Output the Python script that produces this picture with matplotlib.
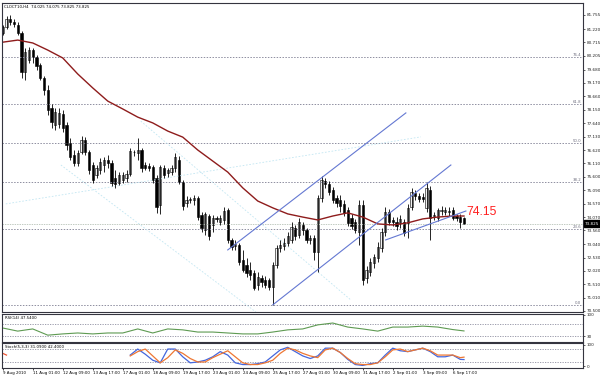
import matplotlib
matplotlib.use("Agg")
import matplotlib.pyplot as plt
import matplotlib.transforms as mtransforms

# CLOCT10 H4 candles (bar 0 = first visible bar)
opens = [81.07, 81.29, 81.60, 81.48, 81.37, 81.07, 79.58, 80.04, 80.42, 80.15,
         79.85, 79.36, 78.90, 78.22, 77.57, 77.61, 77.99, 77.57, 76.89, 76.43,
         76.13, 76.54, 77.00, 76.54, 76.05, 75.67, 75.86, 76.05, 76.24, 76.13,
         75.56, 75.37, 75.48, 75.56, 75.71, 76.54, 76.51, 76.62, 76.05, 76.01,
         75.97, 75.56, 74.53, 75.94, 75.75, 75.78, 75.94, 76.24, 75.40, 74.61,
         74.72, 74.72, 74.80, 74.15, 73.58, 74.11, 73.77, 74.04, 73.88, 73.96,
         74.34, 73.20, 72.97, 73.01, 72.44, 72.25, 72.06, 71.95, 71.49, 71.76,
         71.68, 71.68, 71.41, 72.25, 72.90, 72.97, 73.09, 73.20, 73.66, 73.39,
         73.77, 73.58, 73.20, 73.28, 72.74, 74.80, 75.44, 75.33, 75.10, 74.80,
         74.72, 74.57, 74.34, 74.04, 73.88, 73.50, 74.53, 71.76, 71.98, 72.33,
         72.52, 72.90, 73.50, 74.26, 73.96, 73.88, 73.81, 73.88, 73.85, 74.45,
         74.99, 74.87, 74.83, 74.42, 75.10, 74.07, 74.04, 74.30, 74.26, 74.26,
         74.34, 74.11, 74.07, 74.025]
highs = [81.37, 81.71, 81.75, 81.60, 81.48, 81.14, 80.50, 80.53, 80.50, 80.23,
         79.93, 79.43, 79.09, 78.37, 78.22, 78.22, 78.14, 77.68, 77.08, 76.62,
         76.62, 77.15, 77.11, 76.62, 76.16, 76.05, 76.32, 76.35, 76.43, 76.24,
         75.86, 75.78, 75.78, 75.86, 76.70, 76.62, 77.08, 76.70, 76.16, 76.13,
         76.05, 75.67, 76.05, 76.05, 75.94, 76.05, 76.51, 76.39, 75.48, 74.87,
         74.83, 74.91, 74.87, 74.26, 74.26, 74.19, 74.15, 74.11, 74.15, 74.45,
         74.42, 73.28, 73.20, 73.09, 72.82, 72.52, 72.36, 72.06, 71.98, 71.87,
         71.83, 71.76, 72.36, 73.01, 73.20, 73.28, 73.50, 73.88, 73.77, 74.04,
         73.88, 73.66, 73.39, 73.39, 74.91, 75.63, 75.56, 75.44, 75.21, 74.91,
         74.91, 74.72, 74.45, 74.19, 73.99, 74.72, 74.72, 72.21, 72.52, 72.67,
         73.12, 73.66, 74.45, 74.38, 74.07, 74.07, 74.15, 73.99, 74.57, 75.18,
         75.10, 74.99, 74.99, 75.40, 75.25, 74.26, 74.42, 74.49, 74.45, 74.45,
         74.45, 74.19, 74.19, 74.075]
lows = [80.99, 81.22, 81.37, 81.29, 80.99, 79.36, 79.28, 79.93, 79.93, 79.66,
        79.28, 78.71, 77.95, 77.46, 77.38, 77.46, 77.30, 76.62, 76.24, 76.01,
        76.01, 76.47, 76.43, 75.71, 75.37, 75.56, 75.71, 75.78, 75.94, 75.25,
        75.18, 75.29, 75.37, 75.40, 75.63, 76.39, 76.24, 75.78, 75.86, 75.82,
        75.37, 74.23, 74.19, 75.56, 75.59, 75.67, 75.78, 75.33, 74.34, 74.45,
        74.61, 74.53, 73.96, 73.50, 73.39, 73.20, 73.50, 73.88, 73.77, 73.81,
        73.09, 72.82, 72.82, 72.25, 71.98, 71.79, 71.68, 71.30, 71.30, 71.41,
        71.38, 71.30, 70.73, 72.14, 72.74, 72.82, 72.97, 73.09, 73.20, 73.28,
        73.39, 73.09, 73.05, 72.44, 71.98, 74.64, 75.18, 74.91, 74.61, 74.45,
        74.26, 74.11, 73.73, 73.62, 73.47, 73.01, 71.49, 71.57, 71.83, 72.14,
        72.36, 72.74, 73.35, 73.77, 73.73, 73.58, 73.66, 73.35, 73.28, 74.34,
        74.72, 74.64, 74.64, 74.26, 73.20, 73.96, 73.92, 74.15, 74.15, 74.11,
        73.96, 73.92, 73.66, 73.825]
closes = [81.29, 81.60, 81.48, 81.41, 81.07, 79.58, 80.34, 80.42, 80.15, 79.81,
          79.36, 78.90, 78.14, 77.68, 78.06, 78.03, 77.46, 76.81, 76.35, 76.13,
          76.51, 77.00, 76.54, 75.86, 75.48, 75.94, 76.16, 76.24, 76.13, 75.37,
          75.33, 75.67, 75.67, 75.71, 76.58, 76.56, 76.62, 75.94, 75.94, 75.94,
          75.48, 74.45, 75.97, 75.67, 75.86, 75.94, 76.35, 75.40, 74.49, 74.72,
          74.76, 74.80, 74.07, 73.66, 74.19, 73.35, 74.04, 74.00, 74.04, 74.30,
          73.20, 72.93, 73.05, 72.36, 72.06, 71.95, 71.87, 71.38, 71.79, 71.60,
          71.49, 71.41, 72.25, 72.90, 73.01, 73.09, 73.35, 73.69, 73.35, 73.88,
          73.58, 73.20, 73.28, 72.74, 74.80, 75.48, 75.33, 75.02, 74.72, 74.61,
          74.49, 74.23, 73.85, 73.73, 73.58, 74.53, 71.68, 72.06, 72.36, 72.55,
          72.93, 73.50, 74.26, 73.88, 73.88, 73.73, 74.00, 73.47, 74.42, 75.02,
          74.87, 74.76, 74.76, 75.18, 74.04, 74.15, 74.34, 74.34, 74.34, 74.30,
          74.04, 74.04, 73.88, 73.825]

# moving average, read every 4 bars
ma_bars = list(range(0, 121, 4)) + [123]
ma_vals = [80.72, 80.80, 80.69, 80.42, 80.12, 79.51, 78.98, 78.48, 78.18, 77.87,
           77.65, 77.34, 77.11, 76.62, 76.20, 75.78, 75.18, 74.68, 74.42, 74.19,
           74.07, 73.96, 74.11, 74.23, 74.07, 73.81, 73.77, 73.85, 74.00, 74.07,
           74.11, 74.11]

# fibonacci retracement levels
fib_labels = ["76.4", "61.8", "50.0", "38.2", "23.6", "0.0"]
fib_prices = [80.16, 78.37, 76.89, 75.40, 73.62, 70.73]

# trend lines (bar, price) pairs
channel_up = ([60.0, 107.5], [72.82, 78.03])
channel_low = ([72.0, 119.5], [70.73, 76.05])
short_line = ([102.1, 123.5], [73.20, 74.30])
faint_lines = [([15.5, 67.5], [76.05, 70.46]),
               ([36.8, 92.8], [77.72, 70.92]),
               ([0.8, 111.5], [74.57, 77.12])]

bid = 73.825
note_price = 74.15
price_ticks = [81.755, 81.220, 80.715, 80.205, 79.680, 79.170, 78.660, 78.150,
               77.640, 77.130, 76.620, 76.110, 75.600, 75.090, 74.570, 74.070,
               73.560, 73.040, 72.530, 72.020, 71.510, 71.010, 70.500]

# RSI(14), read every 4 bars
rsi_bars = list(range(0, 121, 4)) + [123]
rsi_vals = [57, 47, 54, 34, 38, 41, 38, 41, 41, 54, 41, 54, 51, 44, 44, 41,
            38, 38, 44, 51, 54, 67, 73, 60, 54, 47, 60, 60, 63, 60, 52, 47.54]

# Stoch(5,3,3), read every 2 bars
stoch_bars = list(range(34, 123, 2)) + [123]
stoch_k = [52, 80, 56, 28, 16, 80, 80, 44, 16, 20, 28, 44, 68, 52, 16, 8, 8, 12,
           20, 48, 76, 88, 68, 48, 36, 48, 84, 84, 64, 32, 8, 4, 12, 16, 52, 84,
           72, 68, 76, 84, 68, 44, 44, 52, 32, 31.09]
stoch_d = [48, 68, 80, 48, 16, 40, 76, 60, 36, 20, 20, 40, 56, 72, 44, 16, 8, 8,
           16, 28, 60, 84, 76, 60, 48, 40, 76, 84, 64, 36, 12, 8, 8, 16, 44, 76,
           80, 68, 76, 84, 72, 52, 52, 52, 40, 42.40]
stoch_d_head = [60, 52]

date_bars = list(range(0, 121, 8))
date_labels = ["9 Aug 2010", "11 Aug 01:00", "12 Aug 09:00", "13 Aug 17:00",
               "17 Aug 01:00", "18 Aug 09:00", "19 Aug 17:00", "23 Aug 01:00",
               "24 Aug 09:00", "25 Aug 17:00", "27 Aug 01:00", "30 Aug 09:00",
               "31 Aug 17:00", "2 Sep 01:00", "3 Sep 09:00", "6 Sep 17:00"]

W, H = 600, 376
fig = plt.figure(figsize=(6, 3.76), dpi=100)
spine_c = "#34343f"
small = 3.0
xlim = (-0.2, -0.2 + 581 / 3.75)

def panel(top, bottom):
    a = fig.add_axes([2 / W, 1 - bottom / H, 581 / W, (bottom - top) / H])
    a.set_xlim(*xlim)
    for s in a.spines.values():
        s.set_color(spine_c)
        s.set_linewidth(0.8)
    a.yaxis.tick_right()
    a.tick_params(axis="y", length=1.5, width=0.5, labelsize=small, pad=1,
                  colors="#222222")
    a.tick_params(axis="x", length=0)
    a.set_xticks([])
    return a

ax = panel(3, 312)
ax.set_ylim(70.46, 82.21)
ax.set_yticks(price_ticks)
ax.set_yticklabels([f"{v:.3f}" for v in price_ticks])

# fib levels
for lab, p in zip(fib_labels, fib_prices):
    ax.axhline(p, color="#8e8ea0", lw=0.7, ls=(0, (1.5, 1.5)))
    ax.text(0.997, p, lab, transform=mtransforms.blended_transform_factory(ax.transAxes, ax.transData),
            ha="right", va="bottom", fontsize=2.8, color="#707080")
ax.axhline(bid, color="#c2cbc2", lw=0.7, ls=(0, (1.5, 1)))

for xs, ys in faint_lines:
    ax.plot(xs, ys, color="#c2e6f2", lw=0.6, ls=(0, (2, 2)))

# candles
idx = list(range(len(closes)))
ax.vlines(idx, lows, highs, color="black", lw=0.6)
for i in idx:
    o, c = opens[i], closes[i]
    bull = c >= o
    h = max(abs(c - o), 0.02)
    ax.bar(i, h, bottom=min(o, c), width=0.62,
           color="#f2f2f2" if bull else "black", edgecolor="black", linewidth=0.4)

ax.plot(ma_bars, ma_vals, color="#8e1c1c", lw=1.0)
for xs, ys in (channel_up, channel_low, short_line):
    ax.plot(xs, ys, color="#6478d2", lw=0.8)

ax.text(123.7, note_price + 0.1, f"{note_price:.2f}", color="#ff2020",
        fontsize=8.7, family="Liberation Sans", va="center", ha="left")
ax.text(0.003, 0.993, "CLOCT10,H4  74.025 74.075 73.825 73.825",
        transform=ax.transAxes, fontsize=2.8, va="top", ha="left")
ax.text(1.003, bid, f"{bid:.3f}",
        transform=mtransforms.blended_transform_factory(ax.transAxes, ax.transData),
        color="white", fontsize=3.0, va="center", ha="left",
        bbox=dict(boxstyle="square,pad=0.25", fc="black", ec="black"))

# RSI panel
rsi = panel(314, 342)
rsi.set_ylim(12, 102)
rsi.set_yticks([100, 30])
rsi.set_yticklabels(["100", "30"])
for lv in (70, 30):
    rsi.axhline(lv, color="#8e8ea0", lw=0.6, ls=(0, (1.5, 1.5)))
rsi.plot(rsi_bars, rsi_vals, color="#5e9a52", lw=0.8)
rsi.text(0.005, 0.93, f"RSI(14) {rsi_vals[-1]:.4f}", transform=rsi.transAxes,
         fontsize=2.8, va="top", ha="left")

# Stochastic panel
st = panel(343, 368)
st.set_ylim(-8, 108)
st.set_yticks([100, 0])
st.set_yticklabels(["100", "0"])
for lv in (80, 20):
    st.axhline(lv, color="#8e8ea0", lw=0.6, ls=(0, (1.5, 1.5)))
st.plot(stoch_bars, stoch_k, color="#4466dd", lw=0.9)
st.plot(stoch_bars, stoch_d, color="#ee7733", lw=0.9)
st.plot([0, 1], stoch_d_head, color="#ee5533", lw=0.9)
st.text(0.005, 0.93, f"Stoch(5,3,3) {stoch_k[-1]:.4f} {stoch_d[-1]:.4f}",
        transform=st.transAxes, fontsize=2.8, va="top", ha="left")
st.set_xticks(date_bars)
st.set_xticklabels(date_labels, fontsize=2.9, ha="left")
st.tick_params(axis="x", length=1.5, width=0.5, pad=1, direction="out")

fig.savefig("out.png", dpi=100)
